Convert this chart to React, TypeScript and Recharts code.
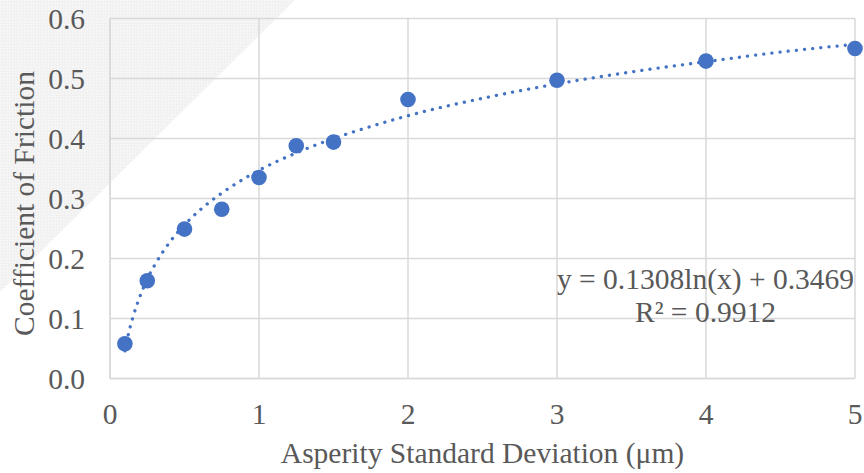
import { ScatterChart, Scatter, XAxis, YAxis, CartesianGrid } from "recharts";

// Measured points: asperity standard deviation (µm) vs coefficient of friction
const asperitySd = [0.1, 0.25, 0.5, 0.75, 1, 1.25, 1.5, 2, 3, 4, 5];
const friction = [0.058, 0.163, 0.249, 0.282, 0.335, 0.388, 0.394, 0.465, 0.497, 0.529, 0.55];

// Dotted log trendline
const trendX = [0.1, 0.12, 0.15, 0.2, 0.25, 0.3, 0.4, 0.5, 0.6, 0.75, 0.9, 1, 1.25, 1.5, 1.75, 2, 2.5, 3, 3.5, 4, 4.5, 5];
const trendY = [0.046, 0.07, 0.099, 0.136, 0.166, 0.189, 0.227, 0.256, 0.28, 0.309, 0.333, 0.347, 0.376, 0.4, 0.42, 0.438, 0.467, 0.491, 0.511, 0.528, 0.544, 0.557];

const xTicks = [0, 1, 2, 3, 4, 5];
const yTicks = [0, 0.1, 0.2, 0.3, 0.4, 0.5, 0.6];

const xTitle = "Asperity Standard Deviation (μm)";
const yTitle = "Coefficient of Friction";
const equation = "y = 0.1308ln(x) + 0.3469";
const rSquared = "R² = 0.9912";

const FONT = "'Liberation Serif', 'Times New Roman', serif";
const TEXT = "#595959";
const GRID = "#d9d9d9";
const BLUE = "#4472C4";
const FS = 29.5;

const points = asperitySd.map((x, i) => ({ x, y: friction[i] }));
const trend = trendX.map((x, i) => ({ x, y: trendY[i] }));

function YTitle(props: any) {
  const vb = props.viewBox || { x: 0, y: 0, width: 0, height: 0 };
  const cx = vb.x + 33.5;
  const cy = vb.y + vb.height / 2 + 5;
  return (
    <text
      x={cx}
      y={cy}
      transform={`rotate(-90, ${cx}, ${cy})`}
      textAnchor="middle"
      fill={TEXT}
      fontSize={FS}
      fontFamily={FONT}
    >
      {yTitle}
    </text>
  );
}

export default function App() {
  return (
    <div style={{ position: "fixed", left: 0, top: 0, width: 864, height: 473, background: "#fff" }}>
      {/* faint textured corner behind the chart */}
      <svg width={864} height={473} style={{ position: "absolute", left: 0, top: 0 }}>
        <defs>
          <pattern id="corner" width={3} height={3} patternUnits="userSpaceOnUse">
            <rect width={3} height={3} fill="#f1f1f1" />
            <rect width={1.5} height={1.5} fill="#f9f9f9" />
          </pattern>
        </defs>
        <polygon points="0,0 295,0 0,292" fill="url(#corner)" />
      </svg>
      <div style={{ position: "absolute", left: 0, top: 0 }}>
        <ScatterChart width={864} height={473} margin={{ top: 18.5, right: 9, bottom: 0, left: 0 }}>
          <CartesianGrid stroke={GRID} strokeWidth={1.5} />
          <XAxis
            type="number"
            dataKey="x"
            domain={[0, 5]}
            ticks={xTicks}
            height={94.5}
            axisLine={{ stroke: GRID, strokeWidth: 1.5 }}
            tickLine={false}
            tickSize={0}
            tickMargin={24.6}
            tick={{ fill: TEXT, fontSize: FS, fontFamily: FONT }}
            label={{
              value: xTitle,
              position: "insideBottom",
              offset: 10,
              fill: TEXT,
              fontSize: FS,
              fontFamily: FONT,
            }}
          />
          <YAxis
            type="number"
            dataKey="y"
            domain={[0, 0.6]}
            ticks={yTicks}
            width={110}
            axisLine={{ stroke: GRID, strokeWidth: 1.5 }}
            tickLine={false}
            tickSize={0}
            tickMargin={25}
            tickFormatter={(v: number) => v.toFixed(1)}
            tick={{ fill: TEXT, fontSize: FS, fontFamily: FONT }}
            label={(p: any) => <YTitle {...p} />}
          />
          <Scatter
            data={trend}
            dataKey="y"
            fill={BLUE}
            shape={() => <g />}
            line={{ stroke: BLUE, strokeWidth: 3.3, strokeDasharray: "0.1 8.1", strokeLinecap: "round" }}
            lineJointType="monotoneX"
            isAnimationActive={false}
          />
          <Scatter
            data={points}
            dataKey="y"
            fill={BLUE}
            shape={(p: any) => <circle cx={p.cx} cy={p.cy} r={7.8} fill={BLUE} />}
            isAnimationActive={false}
          />
        </ScatterChart>
      </div>
      <svg width={864} height={473} style={{ position: "absolute", left: 0, top: 0, pointerEvents: "none" }}>
        <text x={705.5} y={289.3} textAnchor="middle" fill={TEXT} fontSize={FS} fontFamily={FONT}>
          {equation}
        </text>
        <text x={705.5} y={321.7} textAnchor="middle" fill={TEXT} fontSize={FS} fontFamily={FONT}>
          {rSquared}
        </text>
      </svg>
    </div>
  );
}
